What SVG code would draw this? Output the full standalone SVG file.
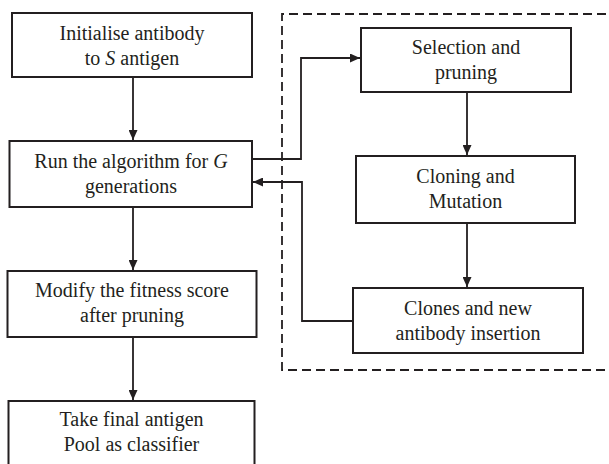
<svg xmlns="http://www.w3.org/2000/svg" width="609" height="464" viewBox="0 0 609 464">
<style>
  .box { fill: #ffffff; stroke: #231f20; stroke-width: 2; }
  .lbl { font-family: 'Liberation Serif', 'Times New Roman', Times, 'DejaVu Serif', serif; font-size: 20px; fill: #231f20; text-anchor: middle; }
  .it { font-style: italic; }
  .conn { fill: none; stroke: #231f20; stroke-width: 1.8; }
  .dash { fill: none; stroke: #231f20; stroke-width: 1.8; stroke-dasharray: 9 5; }
</style>
<defs>
  <marker id="arrow" markerUnits="userSpaceOnUse" markerWidth="10" markerHeight="9" refX="10" refY="4.5" orient="auto">
    <path d="M0,0 L10,4.5 L0,9 Z" fill="#231f20"/>
  </marker>
</defs>
<rect width="609" height="464" fill="#ffffff"/>

<g id="loop-region">
  <path class="dash" d="M620,14 H282 V370 H620"/>
</g>

<g id="connectors">
  <path class="conn" d="M133,77 V140" marker-end="url(#arrow)"/>
  <path class="conn" d="M133,207 V270" marker-end="url(#arrow)"/>
  <path class="conn" d="M133,337 V400" marker-end="url(#arrow)"/>
  <path class="conn" d="M252,159 H301 V58 H360" marker-end="url(#arrow)"/>
  <path class="conn" d="M467,92 V155" marker-end="url(#arrow)"/>
  <path class="conn" d="M467,223 V287" marker-end="url(#arrow)"/>
  <path class="conn" d="M353,321 H302 V182 H253" marker-end="url(#arrow)"/>
</g>

<g id="init">
  <rect class="box" x="12" y="13" width="240" height="64"/>
  <text class="lbl" x="132" y="40">Initialise antibody</text>
  <text class="lbl" x="132" y="65">to <tspan class="it">S</tspan> antigen</text>
</g>

<g id="run">
  <rect class="box" x="9.5" y="141" width="242.5" height="66"/>
  <text class="lbl" x="131" y="168">Run the algorithm for <tspan class="it">G</tspan></text>
  <text class="lbl" x="131" y="193">generations</text>
</g>

<g id="modify">
  <rect class="box" x="7.5" y="271" width="249" height="66"/>
  <text class="lbl" x="132" y="297">Modify the fitness score</text>
  <text class="lbl" x="132" y="322">after pruning</text>
</g>

<g id="final">
  <rect class="box" x="8.5" y="401" width="246" height="68"/>
  <text class="lbl" x="131.5" y="426">Take final antigen</text>
  <text class="lbl" x="131.5" y="451">Pool as classifier</text>
</g>

<g id="selection">
  <rect class="box" x="361" y="28" width="210" height="64"/>
  <text class="lbl" x="466" y="54">Selection and</text>
  <text class="lbl" x="466" y="79">pruning</text>
</g>

<g id="cloning">
  <rect class="box" x="356" y="156" width="219" height="67"/>
  <text class="lbl" x="465.5" y="183">Cloning and</text>
  <text class="lbl" x="465.5" y="208">Mutation</text>
</g>

<g id="clones">
  <rect class="box" x="353" y="288" width="230" height="65"/>
  <text class="lbl" x="468" y="315">Clones and new</text>
  <text class="lbl" x="468" y="340">antibody insertion</text>
</g>
</svg>
